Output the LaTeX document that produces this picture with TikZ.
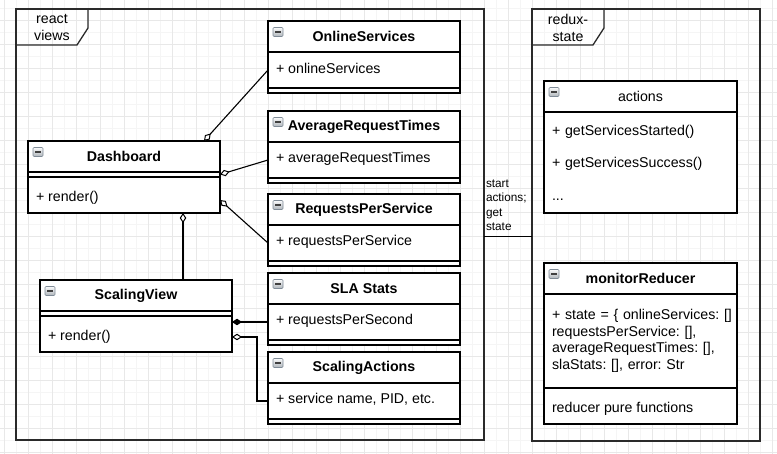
\documentclass[tikz,border=0pt]{standalone}
\usepackage{fontspec}
\setmainfont{Liberation Sans}
\usetikzlibrary{arrows.meta,calc}
\definecolor{gridmaj}{HTML}{E8E8E8}
\definecolor{gridmin}{HTML}{F5F5F5}
\definecolor{iconfill}{HTML}{CDD4DB}
\definecolor{iconline}{HTML}{7F8B97}
\definecolor{framecol}{HTML}{2A2A2A}
\frenchspacing
\begin{document}
\frenchspacing
\begin{tikzpicture}[x=1pt,y=-1pt,
  every node/.style={font=\fontsize{14.2}{17}\selectfont, inner sep=0pt, outer sep=0pt},
  box/.style={draw=black, fill=white, line width=1.2pt, anchor=north west, minimum width=192pt},
  hdr/.style={box, minimum height=31pt, font=\fontsize{14.2}{17}\selectfont\bfseries},
  hdrplain/.style={box, minimum height=31pt},
  sec/.style={box, align=left, text width=176pt, inner xsep=8pt, minimum height=#1},
  emp/.style={box, minimum height=#1},
  rowtext/.style={anchor=west},
  frm/.style={draw=framecol, line width=1.4pt, anchor=north west, minimum width=#1},
  tabline/.style={draw=framecol, line width=1.3pt},
  icon/.style={draw=iconline, line width=0.6pt, rounded corners=1pt, top color=white!90!iconfill, bottom color=iconfill!85!black, minimum width=10pt, minimum height=9pt,
    path picture={\draw[line width=1.6pt, black!75] ([xshift=-3pt]path picture bounding box.center) -- ([xshift=3pt]path picture bounding box.center);}},
  conn/.style={draw=black, line width=1.1pt},
  odia/.style={conn, {Diamond[open, fill=white, length=10pt, width=6.5pt, line width=1pt]}-},
  fdia/.style={conn, {Diamond[length=10pt, width=6.5pt]}-},
]
% background and grid
\fill[white] (0,0) rectangle (777,454);
\useasboundingbox (0,0) rectangle (777,454);
\foreach \i in {0,...,32} {\draw[gridmin, line width=0.7pt] ({16+24*\i},0) -- ({16+24*\i},454);}
\foreach \i in {0,...,19} {\draw[gridmin, line width=0.7pt] (0,{8.7+24*\i}) -- (777,{8.7+24*\i});}
\foreach \i in {0,...,32} {\draw[gridmaj, line width=0.8pt] ({4+24*\i},0) -- ({4+24*\i},454);}
\foreach \i in {0,...,18} {\draw[gridmaj, line width=0.8pt] (0,{20.7+24*\i}) -- (777,{20.7+24*\i});}

% frames
\node[frm=468pt, minimum height=431pt] (rv) at (16,9) {};
\draw[tabline] (rv.north west) ++(0,36) -- ++(61,0) -- ++(11,-17) -- ++(0,-19);
\node[align=center] (rvT) at ($(rv.north west)+(36,18.5)$) {react\\views};

\node[frm=228pt, minimum height=432pt] (rs) at (532,9) {};
\draw[tabline] (rs.north west) ++(0,36) -- ++(61,0) -- ++(11,-17) -- ++(0,-19);
\node[align=center] (rsT) at ($(rs.north west)+(36,18.5)$) {redux-\\state};

% right column classes
\node[hdr] (osH) at (268,21) {OnlineServices};
\node[emp=36pt] (osA) at (osH.south west) {};
\node[rowtext] (osAt) at ($(osA.west)+(8,-1.5)$) {+ onlineServices};
\node[emp=5pt] (osM) at (osA.south west) {};
\node[icon] (osI) at ($(osH.north west)+(10,11)$) {};

\node[hdr] (avH) at (268,111) {AverageRequestTimes};
\node[emp=36pt] (avA) at (avH.south west) {};
\node[rowtext] (avAt) at ($(avA.west)+(8,-1.5)$) {+ averageRequestTimes};
\node[emp=5pt] (avM) at (avA.south west) {};
\node[icon] (avI) at ($(avH.north west)+(10,11)$) {};

\node[hdr] (rpH) at (268,194) {RequestsPerService};
\node[emp=36pt] (rpA) at (rpH.south west) {};
\node[rowtext] (rpAt) at ($(rpA.west)+(8,-1.5)$) {+ requestsPerService};
\node[emp=5pt] (rpM) at (rpA.south west) {};
\node[icon] (rpI) at ($(rpH.north west)+(10,11)$) {};

\node[hdr] (slH) at (268,273) {SLA Stats};
\node[emp=36pt] (slA) at (slH.south west) {};
\node[rowtext] (slAt) at ($(slA.west)+(8,-1.5)$) {+ requestsPerSecond};
\node[emp=5pt] (slM) at (slA.south west) {};
\node[icon] (slI) at ($(slH.north west)+(10,11)$) {};

\node[hdr] (saH) at (268,352) {ScalingActions};
\node[emp=36pt] (saA) at (saH.south west) {};
\node[rowtext] (saAt) at ($(saA.west)+(8,-1.5)$) {+ service name, PID, etc.};
\node[emp=5pt] (saM) at (saA.south west) {};
\node[icon] (saI) at ($(saH.north west)+(10,11)$) {};

% left classes
\node[hdr] (dbH) at (28,141) {Dashboard};
\node[emp=5pt] (dbA) at (dbH.south west) {};
\node[emp=36pt] (dbM) at (dbA.south west) {};
\node[rowtext] (dbMt) at ($(dbM.west)+(8,3)$) {+ render()};
\node[icon] (dbI) at ($(dbH.north west)+(10,11)$) {};

\node[hdr] (svH) at (40,280) {ScalingView};
\node[emp=5pt] (svA) at (svH.south west) {};
\node[emp=36pt] (svM) at (svA.south west) {};
\node[rowtext] (svMt) at ($(svM.west)+(8,3)$) {+ render()};
\node[icon] (svI) at ($(svH.north west)+(10,11)$) {};

% redux classes
\node[hdrplain, minimum width=193pt] (acH) at (544,81) {actions};
\node[sec=101pt, minimum width=193pt, text width=177pt, font=\fontsize{14.2}{32.5}\selectfont] (acA) at (acH.south west) {+ getServicesStarted()\\+ getServicesSuccess()\\...};
\node[icon] (acI) at ($(acH.north west)+(10,11)$) {};

\node[hdr, minimum width=193pt] (mrH) at (544,263) {monitorReducer};
\node[sec=94pt, minimum width=193pt, text width=177pt, font=\fontsize{14.2}{16.6}\selectfont] (mrA) at (mrH.south west) {\mbox{+ state = \{ onlineServices: []}\\requestsPerService: [],\\averageRequestTimes: [],\\slaStats: [], error: Str\\[7pt]};
\node[emp=36pt, minimum width=193pt] (mrM) at (mrA.south west) {};
\node[rowtext] (mrMt) at ($(mrM.west)+(8,3)$) {reducer pure functions};
\node[icon] (mrI) at ($(mrH.north west)+(10,11)$) {};

% connectors
\draw[odia] ($(dbH.north east)+(-16,0)$) -- (osA.west);
\draw[odia] (dbA.east) -- (avA.west);
\draw[odia] ($(dbM.east)+(0,5)$) -- (rpA.west);
\coordinate (c4) at ($(dbM.south west)+(155,0)$);
\draw[odia] (c4) -- (c4 |- svH.north);
\draw[fdia] (svM.east |- slA.west) -- (slA.west);
\draw[odia] ($(svM.east)+(0,3)$) -- ++(25,0) |- (saA.west);

\coordinate (c7) at ($(rv.east)+(0,12)$);
\draw[conn] (c7) -- (c7 -| rs.west);
\node[anchor=north west, align=left, font=\fontsize{11.8}{14.5}\selectfont] (lbl) at (486,179.5) {start\\actions;\\get\\state};
\end{tikzpicture}
\end{document}
